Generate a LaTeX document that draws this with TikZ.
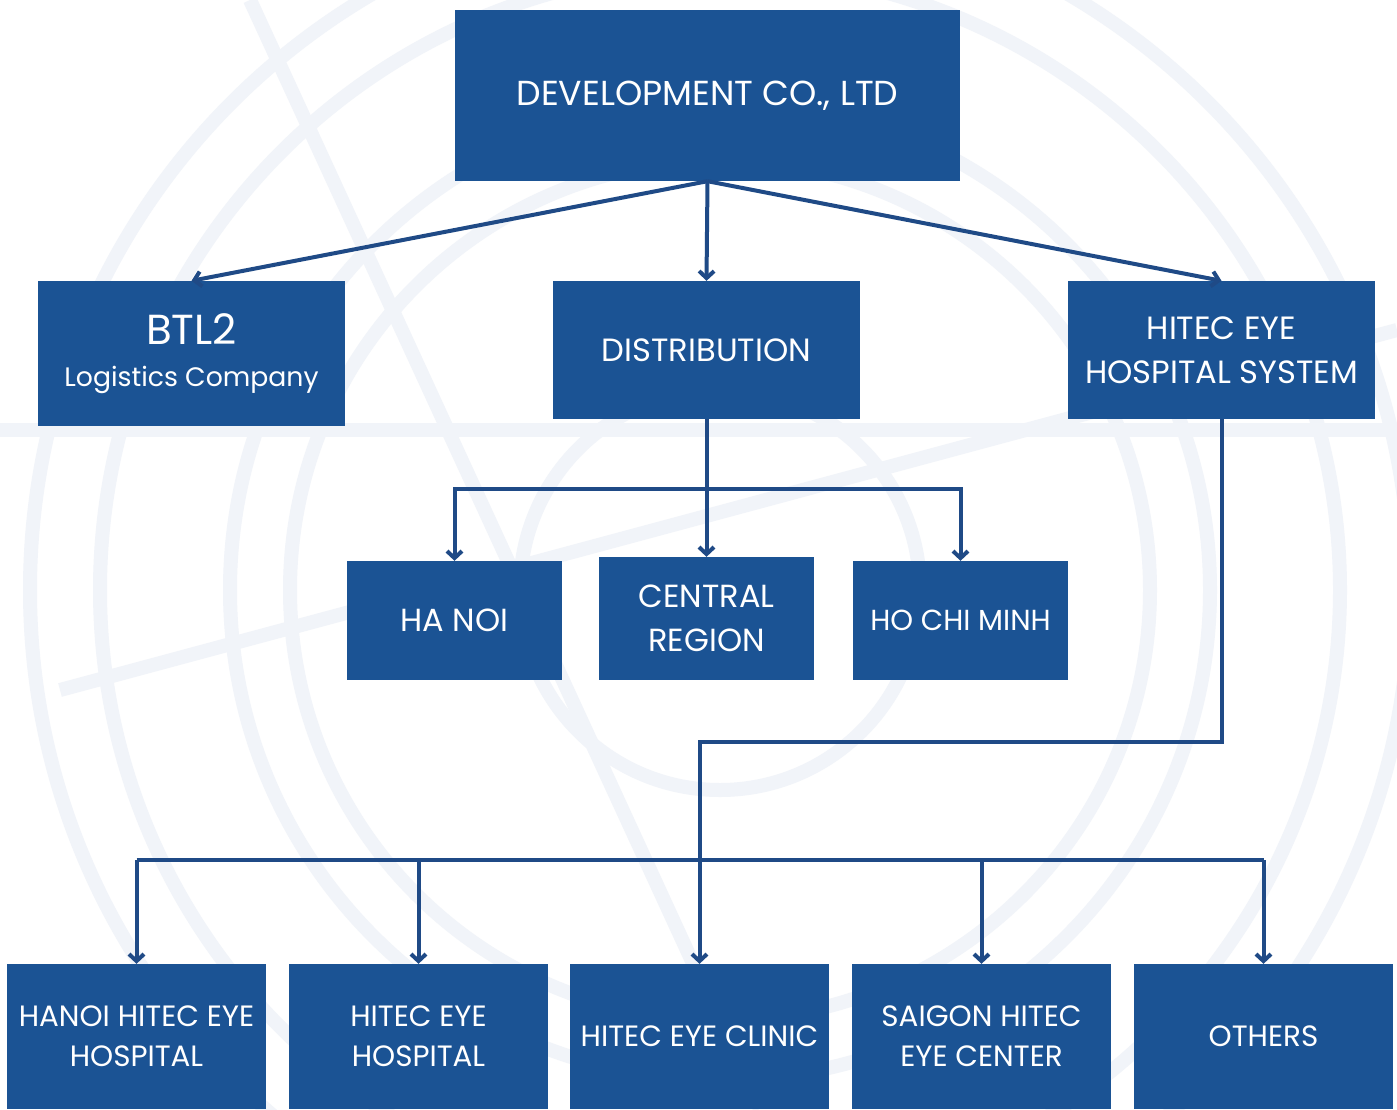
\documentclass[tikz,border=0pt]{standalone}
\usepackage{fontspec}
\setmainfont{Poppins}
\usetikzlibrary{arrows.meta}

\definecolor{boxblue}{HTML}{1B5394}
\definecolor{lineblue}{HTML}{1F4A86}
\definecolor{bgline}{HTML}{F1F4F9}

\tikzset{
  unit/.style={fill=boxblue, text=white, align=center, inner sep=0pt},
  bigunit/.style={unit, minimum width=307pt, minimum height=138pt, font=\fontsize{32.2}{44}\selectfont},
  midunit/.style={unit, minimum width=215pt, minimum height=119pt, font=\fontsize{32}{44}\selectfont},
  lowunit/.style={unit, minimum width=259pt, minimum height=145pt, font=\fontsize{29.4}{40}\selectfont},
  link/.style={lineblue, line width=4pt},
  arr/.style={link, -{Straight Barb[length=7pt,width=15pt]}},
  ring/.style={bgline, line width=14pt}
}

\begin{document}
\begin{tikzpicture}[x=1pt,y=-1pt]
\useasboundingbox[fill=white] (0,0) rectangle (1397,1109);

%background rings
\foreach \r in {200,430,490,620,690}
  \draw[ring] (720,590) circle (\r);
\draw[ring] (0,430) -- (1397,430);
\draw[ring] (60,690) -- (1397,330);
\draw[ring] (250,0) -- (760,1109);

%top
\node[unit, minimum width=505pt, minimum height=171pt, font=\fontsize{34.7}{44}\selectfont] (dev) at (707.5,95.5) {DEVELOPMENT CO., LTD};

%second row
\node[bigunit, minimum height=145pt] (btl) at (191.5,353.5) {{\fontsize{42}{48}\selectfont BTL2}\\[-2pt]{\fontsize{26.7}{34}\selectfont Logistics Company}};
\node[bigunit] (dist) at (706.5,350) {DISTRIBUTION};
\node[bigunit] (sys) at (1221.5,350) {HITEC EYE\\HOSPITAL SYSTEM};

%regions
\node[midunit] (hn) at (454.5,620.5) {HA NOI};
\node[midunit, minimum height=123pt] (cen) at (706.5,618.5) {CENTRAL\\REGION};
\node[midunit, font=\fontsize{29}{44}\selectfont] (hcm) at (960.5,620.5) {HO CHI MINH};

%hospitals
\node[lowunit] (hhe) at (136.5,1036.5) {HANOI HITEC EYE\\HOSPITAL};
\node[lowunit] (heh) at (418.5,1036.5) {HITEC EYE\\HOSPITAL};
\node[lowunit] (clinic) at (699.5,1036.5) {HITEC EYE CLINIC};
\node[lowunit] (sg) at (981.5,1036.5) {SAIGON HITEC\\EYE CENTER};
\node[lowunit] (oth) at (1263.5,1036.5) {OTHERS};

%links from top
\draw[arr] (dev.south) -- (btl.north);
\draw[arr] (dev.south) -- (dist.north);
\draw[arr] (dev.south) -- (sys.north);

%distribution branches
\coordinate (distbus) at (706.5,489);
\draw[arr] (dist.south) -- (cen.north);
\draw[arr] (distbus) -| (hn.north);
\draw[arr] (distbus) -| (hcm.north);

%hospital system branches
\coordinate (sysbend) at (1221.5,742);
\draw[arr] (sys.south) -- (sysbend) -| (clinic.north);
\coordinate (busL) at (136.5,860);
\coordinate (busR) at (1263.5,860);
\draw[link] (busL) -- (busR);
\foreach \h in {hhe,heh,sg,oth}
  \draw[arr] (\h.north |- busL) -- (\h.north);

\end{tikzpicture}
\end{document}
